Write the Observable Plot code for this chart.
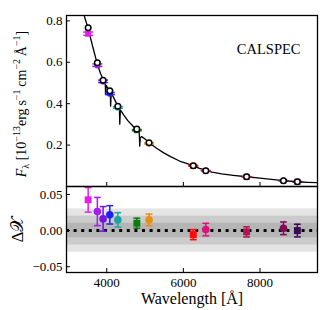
<!DOCTYPE html>
<html><head><meta charset="utf-8">
<script src="https://cdn.jsdelivr.net/npm/d3@7"></script>
<script src="https://cdn.jsdelivr.net/npm/@observablehq/plot@0.6"></script>
<style>
html,body{margin:0;padding:0;background:#fff;}
#chart{position:relative;width:334px;height:310px;overflow:hidden;}
#chart svg{position:absolute;left:0;display:block;}
#chart svg, #chart svg text{font-family:'Liberation Serif','Times New Roman',serif;}
</style></head><body><div id="chart"></div>
<script>
// ---- model spectrum ----
const specWl = [3380, 3440, 3510, 3620, 3744, 3840, 3883, 3889, 3898, 3905, 3962, 3970, 3985, 4040, 4080, 4094, 4101, 4118, 4200, 4290, 4332, 4340, 4356, 4450, 4550, 4650, 4785, 4848, 4861, 4876, 4910, 5000, 5105, 5300, 5500, 5666, 5900, 6100, 6258, 6420, 6545, 6563, 6582, 6750, 7000, 7300, 7650, 8000, 8300, 8612, 8975, 9250, 9520];
const specFlux = [0.845, 0.808, 0.767, 0.686, 0.598, 0.545, 0.528, 0.497, 0.522, 0.513, 0.493, 0.448, 0.488, 0.472, 0.462, 0.457, 0.388, 0.452, 0.422, 0.388, 0.372, 0.301, 0.370, 0.344, 0.318, 0.298, 0.272, 0.262, 0.195, 0.236, 0.241, 0.229, 0.211, 0.185, 0.161, 0.144, 0.123, 0.110, 0.100, 0.088, 0.081, 0.071, 0.077, 0.069, 0.061, 0.054, 0.047, 0.040, 0.034, 0.028, 0.023, 0.020, 0.018];

// ---- photometric bands ----
const bandWl = [3515, 3755, 3905, 4080, 4290, 4785, 5105, 6258, 6585, 7650, 8612, 8975];
const bandColor = ["#e01ee8", "#a81cf0", "#7512e6", "#1f1ff0", "#1aa3a3", "#0b7a12", "#eb8f12", "#ff0a0a", "#e0127a", "#b01552", "#800a5a", "#3c0850"];
const bandSymbol = ["square", "circle", "circle", "circle", "circle", "square", "circle", "square", "circle", "square", "circle", "square"];
const synthFlux = [0.767, 0.598, 0.513, 0.462, 0.388, 0.277, 0.211, 0.100, 0.076, 0.047, 0.028, 0.023];
const obsFlux = [0.738, 0.586, 0.508, 0.449, 0.382, 0.272, 0.208, 0.100, 0.076, 0.047, 0.028, 0.023];
const obsFluxErr = [0.008, 0.006, 0.006, 0.005, 0.004, 0.003, 0.003, 0.002, 0.001, 0.001, 0.001, 0.001];
const resid = [0.0426, 0.0264, 0.0162, 0.0218, 0.0148, 0.0102, 0.0148, -0.0056, 0.0014, -0.0018, 0.0032, 0.0000];
const residErr = [0.0170, 0.0195, 0.0170, 0.0127, 0.0100, 0.0070, 0.0080, 0.0070, 0.0087, 0.0070, 0.0088, 0.0088];

// ---- axes ----
const xDomain = [2950, 9500];
const xTicks = [4000, 6000, 8000];
const yTopDomain = [0, 0.826];
const yTopTicks = [0.2, 0.4, 0.6, 0.8];
const yBotDomain = [-0.058, 0.061];
const yBotTicks = [-0.05, 0, 0.05];
const sigmaLevels = [0.03, 0.02, 0.01];
const sigmaFill = ["#e4e4e4", "#cbcbcb", "#b5b5b5"];
const yLabel = "Fλ [10−13 erg s−1 cm−2 Å−1]";
const yLabelParts = [["F", "it"], ["λ", "sub"], [" [10", "base"], ["−13", "sup"], ["erg\u2009s", "base"], ["−1", "sup"], ["\u2009cm", "base"], ["−2", "sup"], ["\u2009Å", "base"], ["−1", "sup"], ["]", "base"]];
const resLabel = "Δ𝒳";
const xLabel = "Wavelength [Å]";
const tag = "CALSPEC";

const spec = specWl.map((w, i) => ({w, f: specFlux[i]}));
const bands = bandWl.map((w, i) => ({w, color: bandColor[i], sym: bandSymbol[i], synth: synthFlux[i], obs: obsFlux[i], oerr: obsFluxErr[i], res: resid[i], err: residErr[i]}));
const sig = sigmaLevels.map((s, i) => ({lo: -s, hi: s, fill: sigmaFill[i]}));

const cap = {draw(ctx, size) { const w = Math.sqrt(size / Math.PI); ctx.moveTo(-w, 0); ctx.lineTo(w, 0); }};

const W = 334, ML = 66, MR = 17;
const font = "'Liberation Serif', 'Times New Roman', serif";
const topH = 187, topMT = 15, topMB = 1;
const botH = 124, botMT = 0, botMB = 38;

const topPlot = Plot.plot({
  width: W, height: topH, marginLeft: ML, marginRight: MR, marginTop: topMT, marginBottom: topMB,
  style: {fontFamily: font, fontSize: "13px", background: "transparent", overflow: "visible", color: "black"},
  x: {domain: xDomain, axis: null},
  y: {domain: yTopDomain},
  color: {type: "identity"},
  marks: [
    Plot.line(spec, {x: "w", y: "f", stroke: "black", strokeWidth: 1.3, clip: true}),
    Plot.ruleX(bands, {x: "w", y1: d => d.obs - d.oerr, y2: d => d.obs + d.oerr, stroke: "color", strokeWidth: 1.5}),
    Plot.dot(bands, {x: "w", y: d => d.obs - d.oerr, symbol: cap, r: 5, stroke: "color", strokeWidth: 1.5, fill: "none"}),
    Plot.dot(bands, {x: "w", y: d => d.obs + d.oerr, symbol: cap, r: 5, stroke: "color", strokeWidth: 1.5, fill: "none"}),
    Plot.dot(bands.filter(d => d.sym === "square"), {x: "w", y: "obs", symbol: "square", r: 3.4, fill: "color", stroke: "none"}),
    Plot.dot(bands.filter(d => d.sym === "circle"), {x: "w", y: "obs", symbol: "circle", r: 3.2, fill: "color", stroke: "none"}),
    Plot.dot(bands, {x: "w", y: "synth", r: 2.8, fill: "white", stroke: "black", strokeWidth: 1.5}),
    Plot.tickX(xTicks, {x: d => d, insetTop: topH - topMT - topMB - 4, stroke: "black"}),
    Plot.tickY(yTopTicks, {y: d => d, insetRight: W - ML - MR - 4, stroke: "black"}),
    Plot.axisY(yTopTicks, {tickSize: 0, tickPadding: 4, label: null, fontSize: 13, tickFormat: d => d.toFixed(1)}),
    Plot.frame({stroke: "black", strokeWidth: 1.3}),
    Plot.text([tag], {text: d => d, frameAnchor: "top-right", textAnchor: "end", dx: -17, dy: 28, fontSize: 14.5}),
    Plot.text([yLabel], {text: d => d, frameAnchor: "left", textAnchor: "middle", rotate: -90, lineAnchor: "bottom", dx: -41, dy: 3, fontSize: 14})
  ]
});

const botPlot = Plot.plot({
  width: W, height: botH, marginLeft: ML, marginRight: MR, marginTop: botMT, marginBottom: botMB,
  style: {fontFamily: font, fontSize: "13px", background: "transparent", overflow: "visible", color: "black"},
  x: {domain: xDomain, axis: null},
  y: {domain: yBotDomain},
  color: {type: "identity"},
  marks: [
    Plot.rect(sig, {x1: () => xDomain[0], x2: () => xDomain[1], y1: "lo", y2: "hi", fill: "fill"}),
    Plot.ruleY([0], {stroke: "black", strokeWidth: 3, strokeDasharray: "3 4.6"}),
    Plot.ruleX(bands, {x: "w", y1: d => d.res - d.err, y2: d => d.res + d.err, stroke: "color", strokeWidth: 1.5}),
    Plot.dot(bands, {x: "w", y: d => d.res - d.err, symbol: cap, r: 3.4, stroke: "color", strokeWidth: 1.5, fill: "none"}),
    Plot.dot(bands, {x: "w", y: d => d.res + d.err, symbol: cap, r: 3.4, stroke: "color", strokeWidth: 1.5, fill: "none"}),
    Plot.dot(bands.filter(d => d.sym === "square"), {x: "w", y: "res", symbol: "square", r: 3.9, fill: "color", stroke: "none"}),
    Plot.dot(bands.filter(d => d.sym === "circle"), {x: "w", y: "res", symbol: "circle", r: 3.8, fill: "color", stroke: "none"}),
    Plot.tickX(xTicks, {x: d => d, insetTop: botH - botMT - botMB - 4, stroke: "black"}),
    Plot.tickY(yBotTicks, {y: d => d, insetRight: W - ML - MR - 4, stroke: "black"}),
    Plot.axisY(yBotTicks, {tickSize: 0, tickPadding: 4, label: null, fontSize: 13, tickFormat: d3.format(".2f")}),
    Plot.axisX(xTicks, {tickSize: 0, tickPadding: 5, label: null, fontSize: 13, tickFormat: d => String(d)}),
    Plot.frame({stroke: "black", strokeWidth: 1.3}),
    Plot.text([xLabel], {text: d => d, frameAnchor: "bottom", textAnchor: "middle", lineAnchor: "bottom", dy: 31, fontSize: 16}),
    Plot.text([resLabel], {text: d => d, frameAnchor: "left", textAnchor: "middle", rotate: -90, lineAnchor: "bottom", dx: -44, fontSize: 17})
  ]
});

const chart = document.getElementById("chart");
botPlot.style.top = (topH - topMB) + "px";
topPlot.style.top = "0px";
chart.appendChild(botPlot);
chart.appendChild(topPlot);

// rich text for the flux label (subscript/superscripts)
d3.select(topPlot).selectAll("text").filter(function() { return this.textContent === yLabel; }).each(function() {
  const t = d3.select(this);
  t.text(null);
  let level = 0;
  for (const [s, kind] of yLabelParts) {
    const target = kind === "sub" ? 3 : kind === "sup" ? -5.5 : 0;
    const ts = t.append("tspan").text(s).attr("dy", target - level);
    level = target;
    if (kind === "sub" || kind === "sup") ts.attr("font-size", 10);
    if (kind === "it") ts.attr("font-style", "italic");
  }
});
</script>
</body></html>
